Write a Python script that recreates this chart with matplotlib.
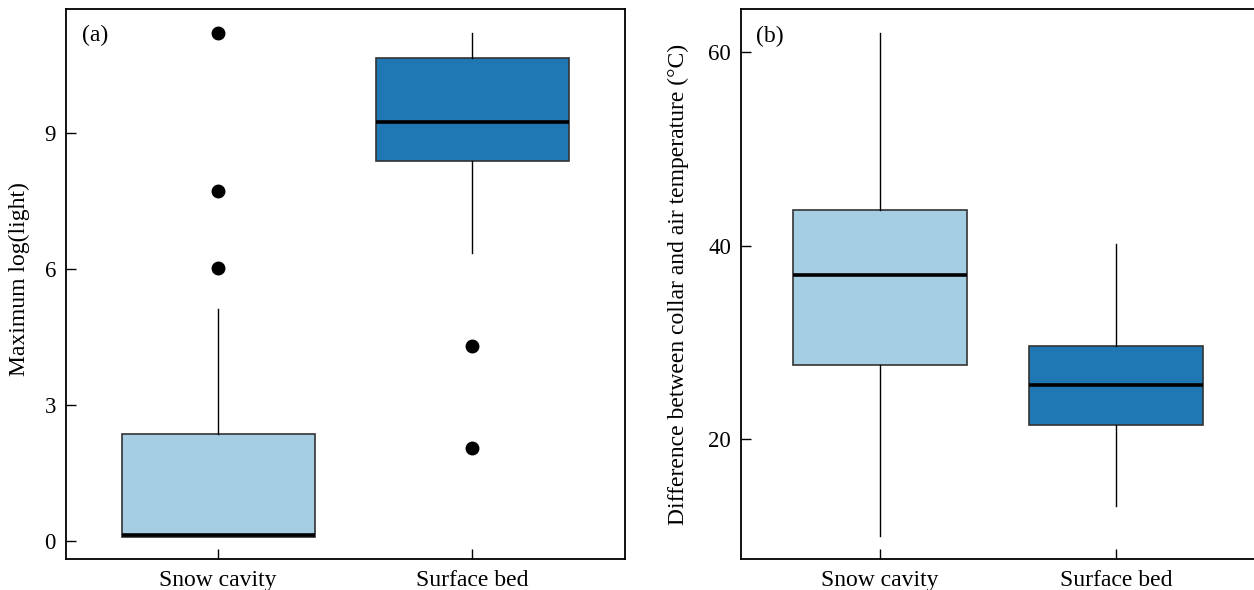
import numpy as np
import matplotlib
matplotlib.use('Agg')
import matplotlib.pyplot as plt
import matplotlib as mpl

mpl.rcParams['font.family'] = ['Liberation Serif', 'DejaVu Serif']
mpl.rcParams['font.size'] = 17

groups = ['Snow cavity', 'Surface bed']
colors = ['#a6cee3', '#1f78b4']

# panel (a): maximum log(light)
a_q1 = [0.08, 8.39]
a_med = [0.12, 9.24]
a_q3 = [2.35, 10.66]
a_lo = [0.08, 6.35]
a_hi = [5.11, 11.22]
a_fliers = [[11.21, 7.73, 6.02], [4.30, 2.04]]

# panel (b): collar minus air temperature
b_q1 = [27.6, 21.45]
b_med = [37.0, 25.53]
b_q3 = [43.7, 29.63]
b_lo = [9.95, 13.06]
b_hi = [62.0, 40.15]
b_fliers = [[], []]

fig = plt.figure(figsize=(12.54, 5.9), dpi=100)
ax1 = fig.add_axes([0.0524, 0.052, 0.446, 0.9322])
ax2 = fig.add_axes([0.5907, 0.052, 0.4103, 0.9322])


def draw(ax, q1, med, q3, lo, hi, fliers, width):
    stats = []
    for i in range(len(groups)):
        stats.append(dict(q1=q1[i], med=med[i], q3=q3[i], whislo=lo[i],
                          whishi=hi[i], fliers=fliers[i], label=groups[i]))
    bp = ax.bxp(stats, positions=range(len(groups)), widths=width,
                patch_artist=True, showcaps=False,
                boxprops=dict(edgecolor='#333333', linewidth=1.2),
                medianprops=dict(color='black', linewidth=2.6),
                whiskerprops=dict(color='black', linewidth=1.0),
                flierprops=dict(marker='o', markerfacecolor='black',
                                markeredgecolor='black', markersize=9))
    for patch, c in zip(bp['boxes'], colors):
        patch.set_facecolor(c)
    for s in ax.spines.values():
        s.set_linewidth(1.3)
    ax.tick_params(direction='in', length=7, width=1.0, pad=7)
    ax.tick_params(axis='x', pad=8)
    ax.tick_params(axis='y', labelsize=16.5)


draw(ax1, a_q1, a_med, a_q3, a_lo, a_hi, a_fliers, 0.76)
ax1.set_xlim(-0.6, 1.6)
ax1.set_ylim(-0.41, 11.74)
ax1.set_yticks([0, 3, 6, 9])
ax1.set_ylabel('Maximum log(light)')
ax1.yaxis.set_label_coords(-0.064, 0.51)
ax1.text(0.0286, 0.953, '(a)', transform=ax1.transAxes, va='center', ha='left')

draw(ax2, b_q1, b_med, b_q3, b_lo, b_hi, b_fliers, 0.737)
ax2.set_xlim(-0.59, 1.59)
ax2.set_ylim(7.52, 64.45)
ax2.set_yticks([20, 40, 60])
ax2.set_ylabel('Difference between collar and air temperature (\u00b0C)')
ax2.yaxis.set_label_coords(-0.100, 0.5)
ax2.text(0.0297, 0.95, '(b)', transform=ax2.transAxes, va='center', ha='left')

fig.savefig('out.png', dpi=100)
